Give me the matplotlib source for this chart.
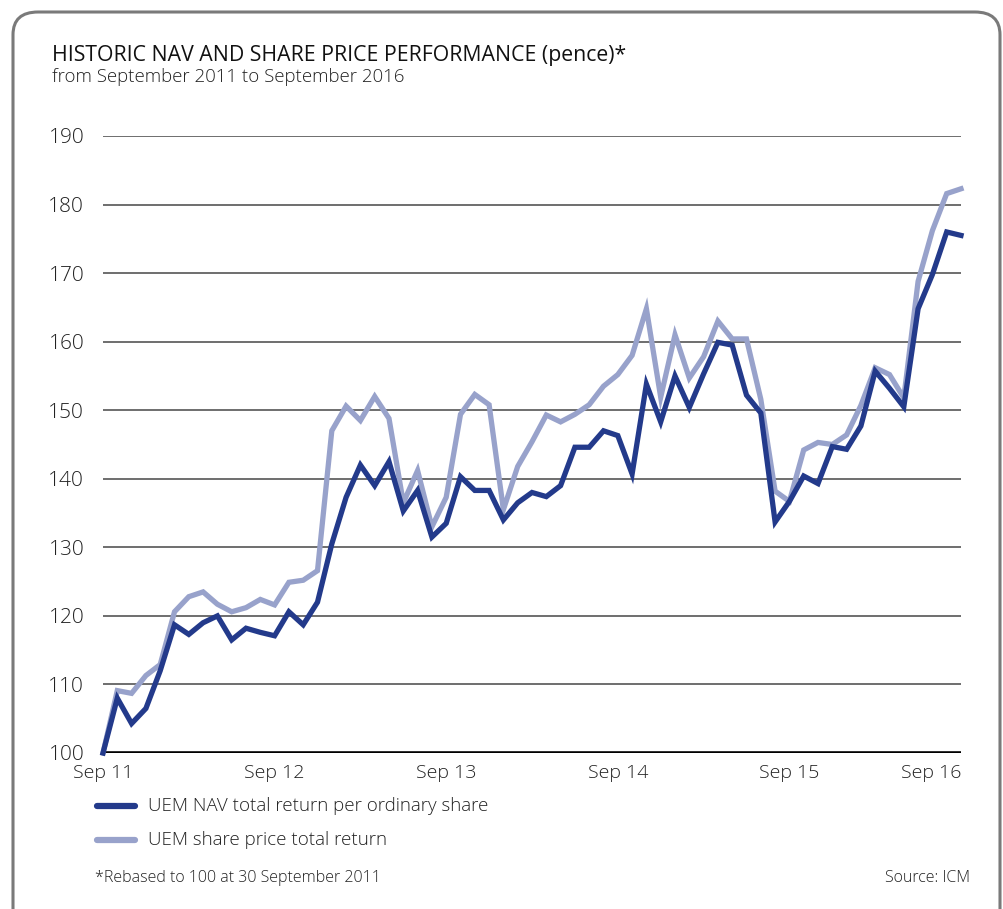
import matplotlib.pyplot as plt
from matplotlib.patches import FancyBboxPatch
import numpy as np

plt.rcParams['font.family'] = ['Open Sans', 'DejaVu Sans']

# monthly values, Sep 2011 .. Sep 2016 (rebased to 100)
nav = [100, 108, 104.3, 106.5, 112, 118.7, 117.3, 119, 120, 116.5,
       118.2, 117.6, 117.1, 120.6, 118.7, 122, 130.5, 137.3, 142, 139,
       142.5, 135.3, 138.3, 131.5, 133.5, 140.3, 138.3, 138.3, 134, 136.5,
       138, 137.4, 139, 144.6, 144.6, 147, 146.3, 140.7, 153.8, 148.3,
       155, 150.4, 155.3, 159.9, 159.5, 152.2, 149.6, 133.7, 136.7, 140.4,
       139.3, 144.7, 144.3, 147.7, 155.7, 153.2, 150.5, 164.8, 169.8, 176,
       175.5]
share = [100, 109.1, 108.7, 111.3, 112.9, 120.6, 122.8, 123.5, 121.7, 120.6,
         121.2, 122.4, 121.6, 124.9, 125.2, 126.6, 147, 150.6, 148.5, 152,
         148.8, 136.5, 141.2, 133, 137.3, 149.4, 152.3, 150.8, 135.5, 141.8,
         145.4, 149.3, 148.3, 149.4, 150.8, 153.5, 155.2, 158, 164.8, 151.9,
         161, 154.7, 157.8, 163, 160.4, 160.4, 151.6, 138.2, 136.7, 144.2,
         145.3, 145, 146.4, 150.7, 156.2, 155.2, 151.8, 168.8, 176.2, 181.6,
         182.3]
tick_months = [0, 12, 24, 36, 48, 60]
tick_labels = ['Sep 11', 'Sep 12', 'Sep 13', 'Sep 14', 'Sep 15', 'Sep 16']
y_ticks = list(range(100, 200, 10))

dark = '#233a8b'
light = '#98a2cb'
txt = '#222222'

W, H = 1004, 909
fig = plt.figure(figsize=(W / 100, H / 100), dpi=100)

# rounded frame
frame = FancyBboxPatch((13 / W, -0.1), (W - 17) / W, (H - 12) / H + 0.1,
                       boxstyle='round,pad=0,rounding_size=0.025',
                       transform=fig.transFigure, facecolor='white',
                       edgecolor='#7a7a7a', linewidth=2.2, zorder=-5)
fig.patches.append(frame)

ax = fig.add_axes([103 / W, (H - 753) / H, (961 - 103) / W, (753 - 136) / H])
ax.set_zorder(2)
ax.set_facecolor('none')

months = np.arange(len(nav))
ax.plot(months, share, color=light, lw=3.8, solid_joinstyle='miter', zorder=3,
        clip_on=False, label='UEM share price total return')
ax.plot(months, nav, color=dark, lw=3.8, solid_joinstyle='miter', zorder=4,
        clip_on=False, label='UEM NAV total return per ordinary share')

ax.set_xlim(0, 60)
ax.set_ylim(100, 190)
for v in y_ticks[1:]:
    ax.axhline(v, color='#555555', lw=1.2, zorder=1)
ax.axhline(100, color='black', lw=2.6, zorder=2)

for s in ax.spines.values():
    s.set_visible(False)
ax.set_yticks(y_ticks)
ax.set_yticklabels([str(v) for v in y_ticks], fontsize=15, color=txt,
                   fontweight='light')
ax.set_xticks(tick_months)
ax.set_xticklabels(tick_labels, fontsize=14, color=txt, fontweight='light')
ax.tick_params(axis='both', length=0)
ax.tick_params(axis='y', pad=13.5)
ax.tick_params(axis='x', pad=8)
for lab in ax.get_xticklabels():
    if lab.get_text() == 'Sep 16':
        lab.set_horizontalalignment('right')

fig.text(52 / W, 1 - 56 / H, 'HISTORIC NAV AND SHARE PRICE PERFORMANCE (pence)*',
         fontsize=15.3, color='#111111', va='center', ha='left')
fig.text(52 / W, 1 - 77 / H, 'from September 2011 to September 2016',
         fontsize=13.4, color=txt, va='center', ha='left', fontweight='light')

# legend drawn manually
for yy, col, lab in [(806, dark, 'UEM NAV total return per ordinary share'),
                     (840, light, 'UEM share price total return')]:
    fig.add_artist(plt.Line2D([97 / W, 135 / W], [1 - yy / H, 1 - yy / H],
                              color=col, lw=4.5, solid_capstyle='round',
                              transform=fig.transFigure))
    fig.text(148 / W, 1 - yy / H, lab, fontsize=13.5, color=txt, va='center',
             ha='left', fontweight='light')

fig.text(95 / W, 1 - 878 / H, '*Rebased to 100 at 30 September 2011',
         fontsize=11.5, color=txt, va='center', ha='left', fontweight='light')
fig.text(970 / W, 1 - 878 / H, 'Source: ICM', fontsize=11.5, color=txt,
         va='center', ha='right', fontweight='light')

fig.savefig('out.png', dpi=100)
